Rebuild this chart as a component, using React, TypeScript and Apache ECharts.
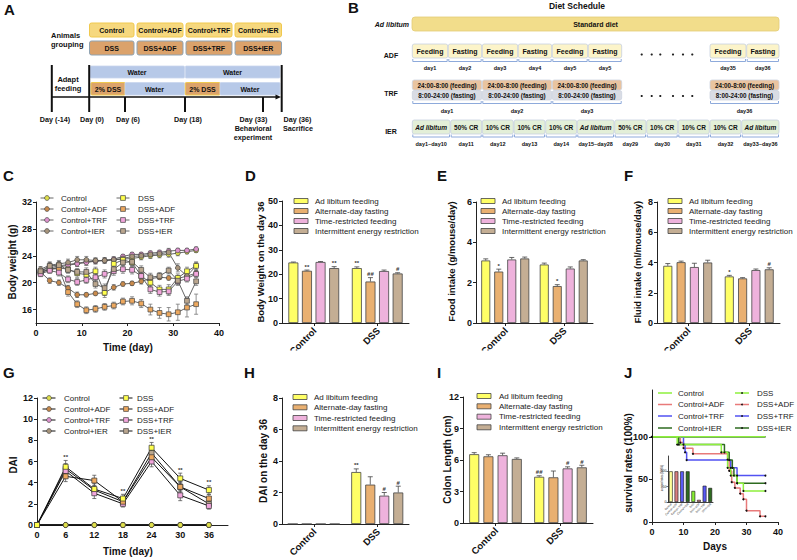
import React, { useEffect, useRef } from 'react';
import * as echarts from 'echarts';

const FF = 'Liberation Sans, Arial, Helvetica, sans-serif';
const FQ = '"Liberation Sans", Arial, Helvetica, sans-serif';

// ---------- Panel C: body weight ----------
const cDays = [1, 3, 5, 7, 9, 11, 13, 15, 17, 19, 21, 23, 25, 27, 29, 31, 33, 35];
const cControl = [21.8, 22.2, 22.5, 22.7, 22.9, 23.1, 23.2, 23.3, 23.4, 23.5, 23.6, 23.8, 24.0, 24.1, 24.2, 24.4, 24.6, 24.8];
const cControlADF = [21.6, 20.3, 20.0, 19.2, 18.2, 18.2, 18.4, 18.5, 19.3, 19.8, 19.9, 20.2, 20.6, 20.8, 20.7, 20.6, 21.0, 21.4];
const cControlTRF = [21.5, 22.0, 22.3, 22.6, 22.8, 23.0, 23.2, 23.3, 23.5, 23.9, 24.2, 24.2, 24.4, 24.5, 24.7, 24.8, 24.8, 25.0];
const cControlIER = [22.0, 22.6, 22.8, 23.0, 23.4, 23.4, 23.3, 23.3, 23.4, 23.6, 23.9, 24.0, 24.2, 24.3, 24.5, 22.2, 21.0, 22.5];
const cDSS = [21.6, 22.0, 22.2, 22.0, 21.4, 21.2, 21.7, 18.5, 22.8, 23.4, 23.0, 21.0, 20.0, 19.0, 19.0, 20.7, 21.7, 22.5];
const cDSSADF = [21.5, 22.0, 22.1, 18.6, 16.8, 15.9, 16.1, 16.4, 16.6, 17.2, 17.3, 16.9, 16.0, 15.5, 15.3, 15.6, 16.3, 16.8];
const cDSSTRF = [21.3, 21.8, 21.5, 20.5, 20.1, 20.4, 20.8, 21.3, 21.7, 22.0, 21.9, 21.0, 19.0, 18.6, 18.7, 20.2, 20.6, 21.3];
const cDSSIER = [21.7, 22.5, 22.6, 21.9, 21.6, 21.6, 19.8, 19.2, 22.0, 23.0, 23.1, 21.9, 20.8, 21.0, 21.8, 20.3, 17.3, 20.2];
const cErrControl = [0.3, 0.4, 0.4, 0.4, 0.5, 0.5, 0.4, 0.4, 0.4, 0.4, 0.5, 0.4, 0.4, 0.4, 0.4, 0.4, 0.3, 0.3];
const cErrControlADF = [0.4, 0.4, 0.4, 0.4, 0.4, 0.3, 0.3, 0.4, 0.4, 0.3, 0.3, 0.4, 0.4, 0.3, 0.3, 0.4, 0.4, 0.4];
const cErrControlTRF = [0.4, 0.4, 0.4, 0.4, 0.4, 0.4, 0.4, 0.3, 0.3, 0.3, 0.3, 0.3, 0.3, 0.3, 0.4, 0.3, 0.3, 0.3];
const cErrControlIER = [0.4, 0.5, 0.5, 0.5, 0.5, 0.5, 0.4, 0.4, 0.4, 0.4, 0.4, 0.4, 0.4, 0.4, 0.4, 0.6, 0.6, 0.5];
const cErrDSS = [0.4, 0.5, 0.5, 0.5, 0.6, 0.6, 0.6, 0.7, 0.7, 0.6, 0.6, 0.6, 0.6, 0.6, 0.7, 0.6, 0.6, 0.6];
const cErrDSSADF = [0.4, 0.4, 0.5, 0.6, 0.5, 0.5, 0.5, 0.5, 0.5, 0.5, 0.6, 0.6, 0.8, 0.8, 1.0, 1.2, 1.4, 1.5];
const cErrDSSTRF = [0.4, 0.4, 0.5, 0.5, 0.5, 0.5, 0.5, 0.6, 0.6, 0.6, 0.6, 0.6, 0.6, 0.6, 0.6, 0.6, 0.5, 0.5];
const cErrDSSIER = [0.4, 0.5, 0.5, 0.5, 0.5, 0.6, 0.6, 0.6, 0.6, 0.5, 0.5, 0.6, 0.6, 0.5, 0.5, 0.6, 0.6, 0.6];
const cXTicks = [0, 10, 20, 30, 40];
const cYTicks = [16, 20, 24, 28, 32];

const groupNames = ['Control', 'Control+ADF', 'Control+TRF', 'Control+IER', 'DSS', 'DSS+ADF', 'DSS+TRF', 'DSS+IER'];
const groupFill = ['#e0e04a', '#c98a4b', '#df93cf', '#a8957c', '#ffff4d', '#eda85e', '#f2a6dc', '#baa68e'];
const groupSym = ['circle', 'circle', 'circle', 'circle', 'rect', 'rect', 'rect', 'rect'];

// ---------- Bar panels ----------
const barGroups = ['Control', 'DSS'];
const barNames = ['Ad libitum feeding', 'Alternate-day fasting', 'Time-restricted feeding', 'Intermittent energy restriction'];
const barColors = ['#ffff66', '#e9b071', '#eeb2dc', '#c4ae94'];

const dVals = [[24.8, 22.5], [21.4, 17.0], [25.0, 21.3], [22.5, 20.3]];
const dErr = [[0.2, 0.5], [0.3, 1.6], [0.2, 0.4], [0.6, 0.3]];
const dMarks = [['', '**'], ['**', '##'], ['', ''], ['**', '#']];
const dYTicks = [0, 10, 20, 30, 40, 50];

const eVals = [[3.1, 2.9], [2.55, 1.83], [3.15, 2.7], [3.2, 3.1]];
const eErr = [[0.08, 0.07], [0.12, 0.07], [0.1, 0.08], [0.07, 0.04]];
const eMarks = [['', ''], ['*', '*'], ['', ''], ['', '']];
const eYTicks = [0, 2, 4, 6];

const fVals = [[3.78, 3.08], [4.02, 2.95], [3.7, 3.5], [4.0, 3.55]];
const fErr = [[0.15, 0.07], [0.07, 0.05], [0.25, 0.07], [0.15, 0.1]];
const fMarks = [['', '*'], ['', ''], ['', ''], ['', '#']];
const fYTicks = [0, 2, 4, 6, 8];

const hVals = [[0, 3.3], [0, 2.5], [0, 1.8], [0, 2.0]];
const hErr = [[0, 0.2], [0, 0.5], [0, 0.2], [0, 0.4]];
const hMarks = [['', '**'], ['', ''], ['', '#'], ['', '#']];
const hYTicks = [0, 2, 4, 6, 8];

const iVals = [[6.55, 4.4], [6.35, 4.35], [6.45, 5.2], [6.1, 5.3]];
const iErr = [[0.15, 0.1], [0.15, 0.6], [0.2, 0.15], [0.1, 0.2]];
const iMarks = [['', '##'], ['', ''], ['', '#'], ['', '#']];
const iYTicks = [0, 3, 6, 9, 12];

// ---------- Panel G: DAI ----------
const gDays = [0, 6, 12, 18, 24, 30, 36];
const gControl = [0, 0, 0, 0, 0, 0, 0];
const gControlADF = [0, 0, 0, 0, 0, 0, 0];
const gControlTRF = [0, 0, 0, 0, 0, 0, 0];
const gControlIER = [0, 0, 0, 0, 0, 0, 0];
const gDSS = [0, 5.5, 3.4, 2.5, 7.3, 4.4, 3.3];
const gDSSADF = [0, 4.6, 4.2, 2.2, 6.4, 3.6, 2.5];
const gDSSTRF = [0, 5.1, 3.0, 2.0, 6.0, 2.8, 1.8];
const gDSSIER = [0, 5.3, 3.3, 2.2, 6.8, 3.6, 2.0];
const gErrDSS = [0, 0.6, 0.5, 0.4, 0.5, 0.5, 0.4];
const gErrDSSADF = [0, 0.5, 0.5, 0.3, 0.5, 0.5, 0.4];
const gErrDSSTRF = [0, 0.5, 0.5, 0.3, 0.5, 0.5, 0.3];
const gErrDSSIER = [0, 0.5, 0.4, 0.3, 0.5, 0.4, 0.3];
const gZeroErr = [0, 0, 0, 0, 0, 0, 0];
const gMarksDSS = ['', '**', '', '**', '**', '**', '**'];
const gXTicks = [0, 6, 12, 18, 24, 30, 36];
const gYTicks = [0, 2, 4, 6, 8, 10, 12];

// ---------- Panel J: survival ----------
const jControl = [[0, 100], [36, 100]];
const jControlADF = [[0, 100], [36, 100]];
const jControlTRF = [[0, 100], [36, 100]];
const jControlIER = [[0, 100], [36, 100]];
const jDSS = [[0, 100], [8, 90.9], [22, 81.8], [24, 63.6], [25, 54.5], [27, 45.5], [29, 36.4], [36, 36.4]];
const jDSSADF = [[0, 100], [9, 93.3], [10, 86.7], [13, 80], [24, 73.3], [24.5, 60], [25.3, 46.7], [26.3, 40], [28, 33.3], [29, 26.7], [30, 13.3], [34.3, 6.7], [36, 6.7]];
const jDSSTRF = [[0, 100], [10, 90.9], [10.5, 81.8], [11, 72.7], [25, 63.6], [27, 54.5], [36, 54.5]];
const jDSSIER = [[0, 100], [8.5, 90.9], [23, 81.8], [24.5, 72.7], [25.5, 63.6], [26, 54.5], [27, 45.5], [36, 45.5]];
const jColors = ['#8ef03c', '#e87a7a', '#5252f2', '#2e6b20'];
const jXTicks = [0, 10, 20, 30, 40];
const jYTicks = [0, 50, 100];
const insetCats = ['Control', 'Control+ADF', 'Control+TRF', 'Control+IER', 'DSS', 'DSS+ADF', 'DSS+TRF', 'DSS+IER'];
const insetVals = [100, 100, 100, 100, 36, 7, 53, 46];
const insetColors = ['#ffff99', '#d98080', '#5a5af5', '#2e6b20', '#88ee33', '#d98080', '#5a5af5', '#2e6b20'];
const insetYTicks = [0, 50, 100];

const GRIDS = [
  { left: 36, top: 202, width: 183, height: 121 },
  { left: 282, top: 201, width: 127, height: 122 },
  { left: 476, top: 202, width: 117, height: 121 },
  { left: 657, top: 202, width: 123, height: 121 },
  { left: 37, top: 398, width: 191, height: 127 },
  { left: 282, top: 398, width: 127, height: 126 },
  { left: 463, top: 397, width: 130, height: 126 },
  { left: 652, top: 390, width: 126, height: 132 },
  { left: 668, top: 456, width: 45, height: 46 },
];

function buildOption() {
  const els: any[] = [];
  const txt = (x: number, y: number, text: string, size: number, o: any = {}) =>
    els.push({
      type: 'text', x, y, rotation: o.rot || 0, z: o.z ?? 20,
      style: {
        text, fill: o.color || '#111',
        font: `${o.italic ? 'italic ' : ''}${o.weight || 'bold'} ${size}px ${FQ}`,
        align: o.align || 'center', verticalAlign: o.va || 'middle',
      },
    });
  const rect = (x: number, y: number, w: number, h: number, fill: string, stroke: string, r = 0, lw = 1, z = 10) =>
    els.push({ type: 'rect', z, shape: { x, y, width: w, height: h, r }, style: { fill, stroke, lineWidth: lw } });
  const line = (x1: number, y1: number, x2: number, y2: number, stroke: string, lw = 1, z = 10) =>
    els.push({ type: 'line', z, shape: { x1, y1, x2, y2 }, style: { stroke, lineWidth: lw } });
  const bracket = (x0: number, x1: number, y0: number, y1: number) =>
    els.push({ type: 'polyline', z: 10, shape: { points: [[x0 + 0.5, y0], [x0 + 0.5, y1], [x1 - 0.5, y1], [x1 - 0.5, y0]] }, style: { stroke: '#8eaadb', lineWidth: 1, fill: 'none' } });

  // ---------- Panel A ----------
  txt(4, 9, 'A', 15, { align: 'left' });
  txt(51, 35, 'Animals', 7.5, { align: 'left' });
  txt(51, 44.5, 'grouping', 7.5, { align: 'left' });
  const aTop = ['Control', 'Control+ADF', 'Control+TRF', 'Control+IER'];
  const aBot = ['DSS', 'DSS+ADF', 'DSS+TRF', 'DSS+IER'];
  const aX = [[89.5, 134], [137, 183], [186, 232], [235, 281.5]];
  aX.forEach(([x0, x1], i) => {
    rect(x0, 23, x1 - x0, 14, '#f6d87e', '#f0c94e', 2, 1);
    txt((x0 + x1) / 2, 30, aTop[i], 7);
    rect(x0, 41, x1 - x0, 14, '#dba26b', '#8fa3b3', 2, 1);
    txt((x0 + x1) / 2, 48, aBot[i], 7);
  });
  rect(90, 66, 94.5, 12, '#b7c9e8', '#c9d6ee', 1, 0.8);
  txt(137, 72, 'Water', 7);
  rect(185.3, 66, 94.7, 12, '#b7c9e8', '#c9d6ee', 1, 0.8);
  txt(232.5, 72, 'Water', 7);
  rect(91, 82.5, 34, 12.5, '#dca36b', '#f0c94e', 1, 1);
  txt(108, 89, '2% DSS', 7);
  rect(125, 82.5, 59.5, 12.5, '#b7c9e8', '#c9d6ee', 1, 0.8);
  txt(154.5, 89, 'Water', 7);
  rect(185.3, 82.5, 34.7, 12.5, '#dca36b', '#f0c94e', 1, 1);
  txt(202.5, 89, '2% DSS', 7);
  rect(220, 82.5, 60, 12.5, '#b7c9e8', '#c9d6ee', 1, 0.8);
  txt(250, 89, 'Water', 7);
  line(51, 97, 278, 97, '#111', 1.3);
  els.push({ type: 'polygon', z: 11, shape: { points: [[275.5, 94.6], [281, 97], [275.5, 99.4]] }, style: { fill: '#111' } });
  line(51.8, 65, 51.8, 112, '#111', 2);
  line(89.2, 65, 89.2, 112, '#111', 2);
  line(125, 97, 125, 112, '#111', 2);
  line(185, 97, 185, 112, '#111', 2);
  line(263, 97, 263, 112, '#111', 2);
  line(281.7, 65, 281.7, 112, '#111', 2);
  txt(68, 79.5, 'Adapt', 7.5);
  txt(68, 88.5, 'feeding', 7.5);
  txt(55, 119, 'Day (-14)', 7.2);
  txt(92, 119, 'Day (0)', 7.2);
  txt(128, 119, 'Day (6)', 7.2);
  txt(188, 119, 'Day (18)', 7.2);
  txt(253.5, 119, 'Day (33)', 7.2);
  txt(253, 128, 'Behavioral', 7.2);
  txt(253, 137, 'experiment', 7.2);
  txt(297.5, 119, 'Day (36)', 7.2);
  txt(298, 128, 'Sacrifice', 7.2);

  // ---------- Panel B ----------
  txt(348, 7.5, 'B', 15, { align: 'left' });
  txt(577, 6, 'Diet Schedule', 8.5);
  txt(409, 24, 'Ad libitum', 7, { align: 'right', italic: true });
  rect(412, 17, 367, 14, '#f2dd8b', '#e3cd76', 3, 0.8);
  txt(595.5, 24, 'Standard diet', 7);
  txt(391, 55, 'ADF', 7);
  txt(391, 93, 'TRF', 7);
  txt(391, 131, 'IER', 7);
  const adfBoxes = [[412.3, 447.7], [448.3, 481.7], [482.3, 517.7], [518.3, 551.7], [552.3, 587.7], [588.3, 621.7], [710, 746], [746.7, 779]];
  const adfText = ['Feeding', 'Fasting', 'Feeding', 'Fasting', 'Feeding', 'Fasting', 'Feeding', 'Fasting'];
  const adfDays = ['day1', 'day2', 'day3', 'day4', 'day5', 'day5', 'day35', 'day36'];
  adfBoxes.forEach(([x0, x1], i) => {
    rect(x0, 44, x1 - x0, 14, '#fcf4c9', '#c7d0e0', 2, 0.8);
    txt((x0 + x1) / 2, 51, adfText[i], 7);
    bracket(x0, x1, 59, 61.5);
    txt((x0 + x1) / 2, 68, adfDays[i], 5.5);
  });
  const trfBoxes = [[412.3, 481.7], [482.3, 551.7], [552.3, 621.7], [710, 779]];
  const trfDays = ['day1', 'day2', 'day3', 'day36'];
  trfBoxes.forEach(([x0, x1], i) => {
    const c = (x0 + x1) / 2;
    rect(x0, 80, x1 - x0, 10, '#e9c4a0', '#cdd3df', 2, 0.8);
    txt(c, 85.2, '24:00-8:00 (feeding)', 6.3);
    rect(x0, 90.5, x1 - x0, 9.5, '#d9dce4', '#cdd3df', 2, 0.8);
    txt(c, 95.5, '8:00-24:00 (fasting)', 6.3);
    bracket(x0, x1, 101, 103.5);
    txt(c, 111, trfDays[i], 5.5);
  });
  const ierBoxes = [[412.3, 450], [450.7, 481.7], [482.3, 513.3], [514, 545], [545.7, 576.7], [577.3, 614], [614.7, 646], [646.7, 677.7], [678.3, 709.3], [710, 741], [741.7, 779]];
  const ierText = ['Ad libitum', '50% CR', '10% CR', '10% CR', '10% CR', 'Ad libitum', '50% CR', '10% CR', '10% CR', '10% CR', 'Ad libitum'];
  const ierDays = ['day1~day10', 'day11', 'day12', 'day13', 'day14', 'day15~day28', 'day29', 'day30', 'day31', 'day32', 'day33~day36'];
  ierBoxes.forEach(([x0, x1], i) => {
    const c = (x0 + x1) / 2;
    rect(x0, 120, x1 - x0, 14, '#e3efd8', '#c7d0e0', 2, 0.8);
    txt(c, 127, ierText[i], 6.5, { italic: ierText[i] === 'Ad libitum' });
    bracket(x0, x1, 134.5, 137);
    txt(c, 144, ierDays[i], 5.5);
  });
  [641.7, 651.7, 660.3, 673, 683, 692.3].forEach((x) => {
    els.push({ type: 'circle', z: 10, shape: { cx: x, cy: 54.5, r: 1.1 }, style: { fill: '#222' } });
    els.push({ type: 'circle', z: 10, shape: { cx: x, cy: 96, r: 1.1 }, style: { fill: '#222' } });
  });

  // ---------- Panel letters & axis titles ----------
  txt(3, 175.5, 'C', 15, { align: 'left' });
  txt(245, 175, 'D', 15, { align: 'left' });
  txt(437, 175, 'E', 15, { align: 'left' });
  txt(624, 175.5, 'F', 15, { align: 'left' });
  txt(3, 372, 'G', 15, { align: 'left' });
  txt(244, 372.5, 'H', 15, { align: 'left' });
  txt(437, 372, 'I', 15, { align: 'left' });
  txt(624, 372, 'J', 15, { align: 'left' });
  const R = Math.PI / 2;
  txt(12, 262, 'Body weight (g)', 10, { rot: R });
  txt(128, 347.5, 'Time (day)', 10);
  txt(260, 262, 'Body Weight on the day 36', 9.5, { rot: R });
  txt(451, 261.5, 'Food intake (g/mouse/day)', 9.5, { rot: R });
  txt(638, 262, 'Fluid intake (ml/mouse/day)', 9.3, { rot: R });
  txt(13, 465, 'DAI', 10, { rot: R });
  txt(128, 551, 'Time (day)', 10);
  txt(263, 461, 'DAI on the day 36', 10, { rot: R });
  txt(447, 459.5, 'Colon Length (cm)', 10, { rot: R });
  txt(628, 463, 'survival rates (100%)', 10, { rot: R });
  txt(715, 546, 'Days', 10);
  txt(662, 478, 'survival rates (100%)', 2.8, { rot: R, weight: 'normal' });

  // rotated category labels for the bar panels
  const Q = Math.PI / 4;
  [[1, 329], [2, 329], [3, 329], [5, 530], [6, 529]].forEach(([gi, y]) => {
    const g = GRIDS[gi];
    barGroups.forEach((name, ci) => {
      const cx = g.left + (g.width * (ci + 0.5)) / barGroups.length;
      txt(cx + 1, y, name, 9.5, { rot: Q, align: 'right' });
    });
  });
  const ig = GRIDS[8];
  insetCats.forEach((name, ci) => {
    const cx = ig.left + (ig.width * (ci + 0.5)) / insetCats.length;
    txt(cx + 0.5, ig.top + ig.height + 1.5, name, 2.8, { rot: Q, align: 'right', weight: 'normal', color: '#222' });
  });

  // ---------- Legends ----------
  const lineLeg = (sx: number, tx: number, y: number, idx: number, lineColor: string) => {
    line(sx - 6.5, y, sx + 6.5, y, lineColor, 1, 21);
    if (groupSym[idx] === 'circle') {
      els.push({ type: 'circle', z: 22, shape: { cx: sx, cy: y, r: 2.4 }, style: { fill: groupFill[idx], stroke: '#444', lineWidth: 0.7 } });
    } else {
      els.push({ type: 'rect', z: 22, shape: { x: sx - 2.4, y: y - 2.4, width: 4.8, height: 4.8 }, style: { fill: groupFill[idx], stroke: '#444', lineWidth: 0.7 } });
    }
    txt(tx, y, groupNames[idx], 8, { align: 'left', weight: 'normal', color: '#222' });
  };
  const cRows = [198, 209, 220, 231];
  cRows.forEach((y, r) => { lineLeg(47, 61, y, r, '#666'); lineLeg(123, 138, y, r + 4, '#666'); });
  const gRows = [398, 409, 420, 431];
  gRows.forEach((y, r) => { lineLeg(49, 64, y, r, '#111'); lineLeg(126, 137, y, r + 4, '#111'); });
  const barLeg = (x0: number, tx: number, rows: number[]) => rows.forEach((y, k) => {
    rect(x0, y - 2.5, 14, 5, barColors[k], '#444', 0, 0.8, 21);
    txt(tx, y, barNames[k], 8, { align: 'left', weight: 'normal', color: '#222' });
  });
  barLeg(294, 315, [201, 211, 221, 231]);
  barLeg(481, 502, [201, 211, 221, 231]);
  barLeg(668, 689, [201, 211, 221, 231]);
  barLeg(293, 314, [397, 407.3, 418, 428.3]);
  barLeg(477, 499, [396, 406.3, 416.7, 427.3]);
  const jRows = [393, 404.5, 416, 428];
  jRows.forEach((y, r) => {
    line(658, y, 672, y, jColors[r], 1.5, 21);
    txt(678, y, groupNames[r], 8, { align: 'left', weight: 'normal', color: '#222' });
    line(735, y, 749, y, jColors[r], 1.5, 21);
    els.push({ type: 'circle', z: 22, shape: { cx: 742, cy: y, r: 0.9 }, style: { fill: '#111' } });
    txt(757, y, groupNames[r + 4], 8, { align: 'left', weight: 'normal', color: '#222' });
  });

  // white clip under top row (labels cut in the original)
  rect(240, 350.5, 557, 14, '#fff', 'none', 0, 0, 100);

  // ---------- Axes ----------
  const axLine = { show: true, onZero: false, lineStyle: { color: '#222', width: 1 } };
  const vAxis = (gi: number, min: number, max: number, ticks: number[], margin = 4, fs = 9) => ({
    type: 'value', gridIndex: gi, min, max, axisLine: axLine, splitLine: { show: false },
    axisTick: { show: true, length: 3, customValues: ticks, lineStyle: { color: '#222' } },
    axisLabel: { show: true, customValues: ticks, fontSize: fs, fontWeight: 'bold', color: '#111', margin, fontFamily: FF },
  });
  const cAxis = (gi: number) => ({
    type: 'category', gridIndex: gi, data: barGroups, axisLine: axLine, splitLine: { show: false },
    axisTick: { show: true, alignWithLabel: true, length: 3, lineStyle: { color: '#222' } },
    axisLabel: { show: false },
  });

  const xAxis: any[] = [
    vAxis(0, 0, 40, cXTicks, 5),
    cAxis(1), cAxis(2), cAxis(3),
    vAxis(4, 0, 40, gXTicks, 5),
    cAxis(5), cAxis(6),
    vAxis(7, 0, 40, jXTicks, 5),
    {
      type: 'category', gridIndex: 8, data: insetCats, axisLine: { show: true, lineStyle: { color: '#111', width: 0.8 } },
      axisTick: { show: false }, splitLine: { show: false }, axisLabel: { show: false },
    },
  ];
  const yAxis: any[] = [
    vAxis(0, 14, 32, cYTicks, 4),
    vAxis(1, 0, 50, dYTicks, 4),
    vAxis(2, 0, 6, eYTicks, 4),
    vAxis(3, 0, 8, fYTicks, 4),
    vAxis(4, 0, 12, gYTicks, 4),
    vAxis(5, 0, 8, hYTicks, 4),
    vAxis(6, 0, 12, iYTicks, 4),
    vAxis(7, 0, 155, jYTicks, 4),
    {
      type: 'value', gridIndex: 8, min: 0, max: 150, splitLine: { show: false },
      axisLine: { show: true, lineStyle: { color: '#111', width: 0.8 } },
      axisTick: { show: true, length: 1.5, customValues: insetYTicks, lineStyle: { color: '#111', width: 0.6 } },
      axisLabel: { customValues: insetYTicks, fontSize: 3.5, color: '#222', margin: 1.5, fontFamily: FF },
    },
  ];

  // ---------- Series ----------
  const series: any[] = [];
  const errSeries = (ai: number, xs: number[], ys: number[], es: number[], color: string, cap: number, marks?: string[]) => ({
    type: 'custom', xAxisIndex: ai, yAxisIndex: ai, silent: true, z: 2,
    data: xs.map((x, k) => [x, ys[k], es[k]]),
    renderItem: (params: any, api: any) => {
      const x = api.value(0), y = api.value(1), e = api.value(2);
      const children: any[] = [];
      const top = api.coord([x, y + e]);
      if (e > 0) {
        const bot = api.coord([x, y - e]);
        children.push({ type: 'line', shape: { x1: top[0], y1: top[1], x2: bot[0], y2: bot[1] }, style: { stroke: color, lineWidth: 0.8 } });
        children.push({ type: 'line', shape: { x1: top[0] - cap / 2, y1: top[1], x2: top[0] + cap / 2, y2: top[1] }, style: { stroke: color, lineWidth: 0.8 } });
        children.push({ type: 'line', shape: { x1: bot[0] - cap / 2, y1: bot[1], x2: bot[0] + cap / 2, y2: bot[1] }, style: { stroke: color, lineWidth: 0.8 } });
      }
      const m = marks ? marks[params.dataIndex] : '';
      if (m) children.push({ type: 'text', style: { text: m, x: top[0], y: top[1] - 0.5, align: 'center', verticalAlign: 'bottom', font: `bold 6px ${FQ}`, fill: '#333' } });
      return { type: 'group', children };
    },
  });

  // C
  const cVals = [cControl, cControlADF, cControlTRF, cControlIER, cDSS, cDSSADF, cDSSTRF, cDSSIER];
  const cErrs = [cErrControl, cErrControlADF, cErrControlTRF, cErrControlIER, cErrDSS, cErrDSSADF, cErrDSSTRF, cErrDSSIER];
  cVals.forEach((v, i) => series.push(errSeries(0, cDays, v, cErrs[i], '#777', 4)));
  cVals.forEach((v, i) => series.push({
    type: 'line', name: groupNames[i], xAxisIndex: 0, yAxisIndex: 0, silent: true, z: 3,
    data: cDays.map((d, k) => [d, v[k]]), symbol: groupSym[i], symbolSize: 4.8, showSymbol: true,
    lineStyle: { color: '#555', width: 0.9 }, itemStyle: { color: groupFill[i], borderColor: '#444', borderWidth: 0.7 },
  }));

  // G
  const gVals = [gControlADF, gControlTRF, gControlIER, gControl, gDSSIER, gDSSTRF, gDSSADF, gDSS];
  const gIdx = [1, 2, 3, 0, 7, 6, 5, 4];
  const gErrs = [gZeroErr, gZeroErr, gZeroErr, gZeroErr, gErrDSSIER, gErrDSSTRF, gErrDSSADF, gErrDSS];
  gVals.forEach((v, k) => series.push(errSeries(4, gDays, v, gErrs[k], '#555', 4, gIdx[k] === 4 ? gMarksDSS : undefined)));
  gVals.forEach((v, k) => {
    const i = gIdx[k];
    series.push({
      type: 'line', name: groupNames[i], xAxisIndex: 4, yAxisIndex: 4, silent: true, z: 3,
      data: gDays.map((d, j) => [d, v[j]]), symbol: groupSym[i], symbolSize: 5, showSymbol: true,
      lineStyle: { color: '#111', width: 1 }, itemStyle: { color: groupFill[i], borderColor: '#333', borderWidth: 0.7 },
    });
  });

  // Bars
  const addBars = (ai: number, vals: number[][], errs: number[][], marks: string[][], bw: number, gap: number) => {
    vals.forEach((v, si) => series.push({
      type: 'bar', name: barNames[si], xAxisIndex: ai, yAxisIndex: ai, silent: true, z: 2,
      data: v, barWidth: bw, barGap: `${(gap / bw) * 100}%`,
      itemStyle: { color: barColors[si], borderColor: '#444', borderWidth: 0.8 },
    }));
    const data: number[][] = [];
    vals.forEach((v, si) => v.forEach((val, ci) => data.push([ci, val, errs[si][ci], si])));
    series.push({
      type: 'custom', xAxisIndex: ai, yAxisIndex: ai, silent: true, z: 4, data,
      renderItem: (params: any, api: any) => {
        const ci = api.value(0), val = api.value(1), e = api.value(2), si = api.value(3);
        const off = (si - 1.5) * (bw + gap);
        const base = api.coord([ci, val]);
        const top = api.coord([ci, val + e]);
        const x = base[0] + off;
        const ch: any[] = [];
        if (e > 0) {
          ch.push({ type: 'line', shape: { x1: x, y1: base[1], x2: x, y2: top[1] }, style: { stroke: '#444', lineWidth: 0.8 } });
          ch.push({ type: 'line', shape: { x1: x - 2.5, y1: top[1], x2: x + 2.5, y2: top[1] }, style: { stroke: '#444', lineWidth: 0.8 } });
        }
        const m = marks[si][ci];
        if (m) ch.push({ type: 'text', style: { text: m, x, y: top[1] - 0.5, align: 'center', verticalAlign: 'bottom', font: `bold 6px ${FQ}`, fill: '#333' } });
        return { type: 'group', children: ch };
      },
    });
  };
  addBars(1, dVals, dErr, dMarks, 10, 3.6);
  addBars(2, eVals, eErr, eMarks, 9, 4);
  addBars(3, fVals, fErr, fMarks, 9, 4.3);
  addBars(5, hVals, hErr, hMarks, 10, 4);
  addBars(6, iVals, iErr, iMarks, 10, 4.2);

  // J survival
  const jAll = [jControlADF, jControlTRF, jControlIER, jDSSADF, jDSSTRF, jDSSIER, jDSS, jControl];
  const jCol = [jColors[1], jColors[2], jColors[3], jColors[1], jColors[2], jColors[3], jColors[0], jColors[0]];
  const jIsCtrl = [true, true, true, false, false, false, false, true];
  jAll.forEach((pts, k) => series.push({
    type: 'line', xAxisIndex: 7, yAxisIndex: 7, silent: true, z: 3, step: 'end',
    data: pts, symbol: jIsCtrl[k] ? 'none' : 'circle', symbolSize: 2, showSymbol: !jIsCtrl[k],
    lineStyle: { color: jCol[k], width: 1.5 }, itemStyle: { color: '#111' },
  }));
  series.push({
    type: 'bar', xAxisIndex: 8, yAxisIndex: 8, silent: true, z: 5, barWidth: 3.8,
    data: insetVals.map((v, i) => ({ value: v, itemStyle: { color: insetColors[i] } })),
    itemStyle: { borderColor: '#111', borderWidth: 0.6 },
  });

  return {
    animation: false,
    backgroundColor: '#fff',
    textStyle: { fontFamily: FF },
    grid: GRIDS, xAxis, yAxis, series,
    graphic: { elements: els },
  };
}

export default function App() {
  const ref = useRef<HTMLDivElement>(null);
  useEffect(() => {
    const chart = echarts.init(ref.current as HTMLDivElement, null, { renderer: 'svg' });
    chart.setOption(buildOption() as any);
    return () => chart.dispose();
  }, []);
  return <div ref={ref} style={{ position: 'fixed', left: 0, top: 0, width: 797, height: 560, background: '#fff' }} />;
}
